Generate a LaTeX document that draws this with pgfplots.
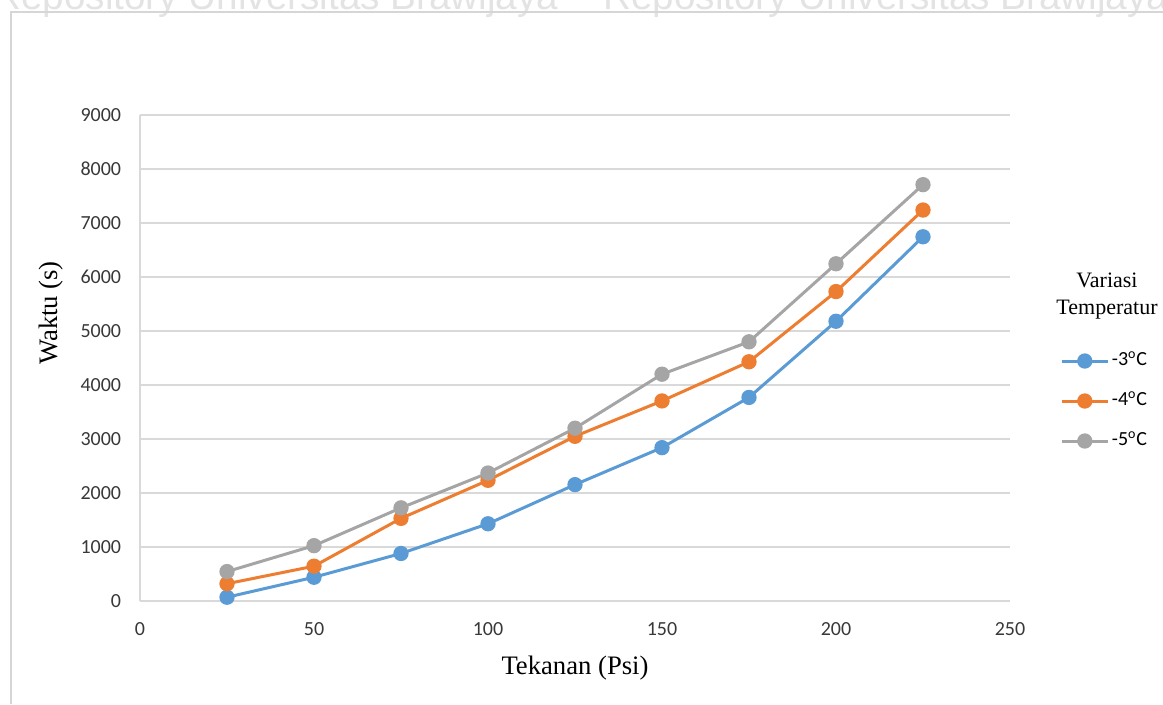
\documentclass[border=0pt]{standalone}
\usepackage{fontspec}
\setmainfont{Liberation Serif}
\newfontfamily\calibri{Carlito}
\newfontfamily\arialf{Liberation Sans}
\usepackage{pgfplots}
\pgfplotsset{compat=1.18}
\definecolor{sblue}{HTML}{5B9BD5}
\definecolor{sorange}{HTML}{ED7D31}
\definecolor{sgray}{HTML}{A5A5A5}
\definecolor{gridc}{HTML}{D9D9D9}
\definecolor{wm}{HTML}{E3E3E3}
\definecolor{framec}{HTML}{D6D6D6}
\begin{document}
\begin{tikzpicture}
\useasboundingbox (0,0) rectangle (872.25pt,528pt);
\node[anchor=base west, inner sep=0pt, font=\arialf\fontsize{29}{29}\selectfont, text=wm] at (-5.25pt,520.5pt) {Repository Universitas Brawijaya};
\node[anchor=base west, inner sep=0pt, font=\arialf\fontsize{29}{29}\selectfont, text=wm] at (452.25pt,520.5pt) {Repository Universitas Brawijaya};
\draw[framec, line width=1.5pt] (8.25pt,0) -- (8.25pt,519pt) -- (880pt,519pt);
\begin{axis}[
  at={(105pt,77.25pt)}, anchor=south west,
  scale only axis, width=652.5pt, height=364.5pt,
  xmin=0, xmax=250, ymin=0, ymax=9000,
  xtick={0,50,...,250}, ytick={0,1000,...,9000},
  axis lines*=left, axis line style={-, draw=gridc, line width=1pt},
  ymajorgrids, grid style={gridc, line width=1pt},
  major tick length=0pt,
  clip=false,
  tick label style={font=\calibri\fontsize{15}{18}\selectfont, text=black!78},
  /pgf/number format/assume math mode=true,
  /pgf/number format/1000 sep={},
  xticklabel style={anchor=north, inner sep=0pt, yshift=-16pt},
  yticklabel style={anchor=east, inner sep=0pt, xshift=-14pt},
  xlabel={Tekanan (Psi)}, ylabel={Waktu (s)},
  label style={font=\fontsize{20}{24}\selectfont},
  xlabel style={at={(axis description cs:0.5,-0.1502)}, anchor=base, inner sep=0pt},
  ylabel style={at={(axis description cs:-0.0954,0.5926)}, anchor=base, inner sep=0pt},
  legend style={at={(axis description cs:1.0575,0.4115)}, anchor=west, draw=none, fill=none, inner sep=0pt,
    font=\calibri\fontsize{15}{17}\selectfont, row sep=17pt,
    nodes={inner xsep=2pt, inner ysep=0pt, text height=10pt, text depth=3pt}},
  legend cell align=left,
  legend image code/.code={\draw[mark repeat=2,mark phase=2,#1] plot coordinates {(0pt,0pt) (17.25pt,0pt) (34.5pt,0pt)};},
  every axis plot/.append style={line width=2.25pt, mark=*, mark size=4.6pt, mark options={solid}},
]
\addplot[sblue] coordinates {(25,70)(50,440)(75,880)(100,1430)(125,2155)(150,2840)(175,3770)(200,5180)(225,6745)};
\addlegendentry{-3\textsuperscript{o}C}
\addplot[sorange] coordinates {(25,320)(50,645)(75,1530)(100,2235)(125,3050)(150,3705)(175,4430)(200,5730)(225,7240)};
\addlegendentry{-4\textsuperscript{o}C}
\addplot[sgray] coordinates {(25,545)(50,1025)(75,1725)(100,2370)(125,3200)(150,4200)(175,4800)(200,6245)(225,7710)};
\addlegendentry{-5\textsuperscript{o}C}
\node[anchor=base, inner sep=0pt, font=\fontsize{16.5}{20}\selectfont] at (axis description cs:1.1115,0.646) {Variasi};
\node[anchor=base, inner sep=0pt, font=\fontsize{16.5}{20}\selectfont] at (axis description cs:1.1115,0.5885) {Temperatur};
\end{axis}
\end{tikzpicture}
\end{document}
